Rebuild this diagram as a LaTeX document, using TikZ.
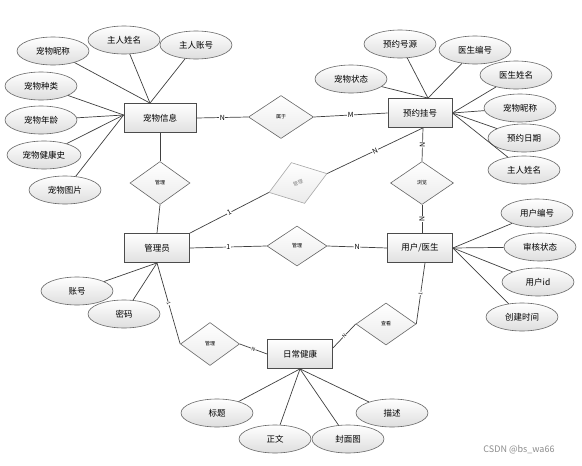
\documentclass[tikz,border=0pt]{standalone}
\usepackage{fontspec}
\setmainfont{Noto Sans CJK SC}
\usetikzlibrary{shapes.geometric,calc}
\tikzset{
  entity/.style={rectangle, draw=black!70, line width=0.8pt, top color=white, bottom color=black!12,
    minimum width=65pt, minimum height=29pt, inner sep=0pt, font=\fontsize{8.5}{10}\selectfont},
  attr/.style={ellipse, draw=black!60, line width=0.6pt, top color=white, bottom color=black!13,
    minimum width=72pt, minimum height=28pt, inner sep=0pt, font=\fontsize{8.5}{10}\selectfont},
  rel/.style={diamond, draw=black!60, line width=0.6pt, top color=white, bottom color=black!8,
    minimum width=60pt, minimum height=43pt, inner sep=0pt, font=\fontsize{5}{6}\selectfont},
  link/.style={draw=black!75, line width=0.7pt},
  faint/.style={draw=black!40, line width=0.6pt},
  lab/.style={fill=white, inner sep=0.5pt, font=\fontsize{7}{8}\selectfont},
  tinylab/.style={fill=white, inner sep=0.3pt, font=\fontsize{5}{6}\selectfont}
}
\begin{document}
\begin{tikzpicture}[x=1pt,y=-1pt]
\useasboundingbox[fill=white] (0,0) rectangle (582,466);
% entities
\node[entity, minimum width=72pt] (pet) at (160,118) {宠物信息};
\node[entity, minimum width=64pt] (appt) at (420,113) {预约挂号};
\node[entity] (admin) at (157,248) {管理员};
\node[entity] (user) at (420,248) {用户/医生};
\node[entity] (daily) at (300,354) {日常健康};
% relationships
\node[rel] (r1) at (160,183) {管理};
\node[rel, minimum width=65pt] (r2) at (281,117) {属于};
\node[rel, rotate=18, draw=black!35, text=black!50, minimum width=61pt] (r3) at (298,183) {管理};
\node[rel, minimum width=63pt] (r4) at (422,183) {浏览};
\node[rel, minimum height=40pt] (r5) at (297,246) {管理};
\node[rel, minimum width=59pt] (r6) at (210,344) {管理};
\node[rel, minimum height=42pt] (r7) at (386,324) {查看};
% attributes of pet
\node[attr] (a1) at (53,51) {宠物昵称};
\node[attr] (a2) at (124,40) {主人姓名};
\node[attr] (a3) at (196,45) {主人账号};
\node[attr] (a4) at (41,86) {宠物种类};
\node[attr] (a5) at (41,120) {宠物年龄};
\node[attr, minimum width=74pt] (a6) at (44,155) {宠物健康史};
\node[attr] (a7) at (65,190) {宠物图片};
% attributes of appointment
\node[attr] (b1) at (400,44) {预约号源};
\node[attr] (b2) at (475,50) {医生编号};
\node[attr] (b3) at (351,79) {宠物状态};
\node[attr] (b4) at (516,75) {医生姓名};
\node[attr] (b5) at (520,108) {宠物昵称};
\node[attr] (b6) at (524,138) {预约日期};
\node[attr] (b7) at (524,170) {主人姓名};
% attributes of admin
\node[attr] (c1) at (77,291) {账号};
\node[attr] (c2) at (124,314) {密码};
% attributes of user
\node[attr] (d1) at (537,213) {用户编号};
\node[attr] (d2) at (540,247) {审核状态};
\node[attr] (d3) at (538,282) {用户id};
\node[attr] (d4) at (522,317) {创建时间};
% attributes of daily
\node[attr] (e1) at (217,413) {标题};
\node[attr] (e2) at (275,439) {正文};
\node[attr] (e3) at (348,439) {封面图};
\node[attr] (e4) at (392,413) {描述};
% watermark
\node[text=black!45, font=\fontsize{9}{10}\selectfont] (wm) at (519,450) {CSDN @bs\_wa66};

% attribute links
\foreach \a in {a1,a2,a3} \draw[link] (\a) -- ([xshift=-10pt]pet.north);
\foreach \a in {a4,a5,a6,a7} \draw[link] (\a) -- ([yshift=3pt]pet.west);
\foreach \a in {b1,b2,b3} \draw[link] (\a) -- ([xshift=8pt]appt.north);
\foreach \a in {b4,b5,b6,b7} \draw[link] (\a) -- (appt.east);
\foreach \a in {c1,c2} \draw[link] (\a) -- (admin.south);
\foreach \a in {d1,d2,d3,d4} \draw[link] (\a) -- (user.east);
\foreach \a in {e1,e2,e3,e4} \draw[link] (\a) -- (daily.south);

% relationship links
\draw[link] (pet.east) -- node[lab] {N} (r2.west);
\draw[link] (r2.east) -- node[lab] {M} (appt.west);
\draw[link] (pet.south) -- (r1.north);
\draw[link] (r1.south) -- (admin.north);
\draw[link] (admin.north east) -- node[lab, sloped] {1} (r3.west);
\draw[link] (r3.east) -- node[lab, sloped] {N} ([xshift=3pt]appt.south);
\draw[link] ([xshift=3pt]appt.south) -- node[lab, sloped] {N} (r4.north);
\draw[link] (r4.south) -- node[lab, sloped] {N} ([xshift=2pt]user.north);
\draw[link] (admin.east) -- node[lab] {1} (r5.west);
\draw[link] (r5.east) -- node[lab] {N} (user.west);
\draw[link] (admin.south) -- node[tinylab, sloped] {1} (r6.west);
\draw[link] (r6.east) -- node[tinylab, sloped] {N} (daily.west);
\draw[link] ([xshift=5pt]user.south) -- node[tinylab, sloped] {1} (r7.east);
\draw[link] (r7.west) -- node[tinylab, sloped] {N} ([yshift=6pt]daily.east);
\end{tikzpicture}
\end{document}
